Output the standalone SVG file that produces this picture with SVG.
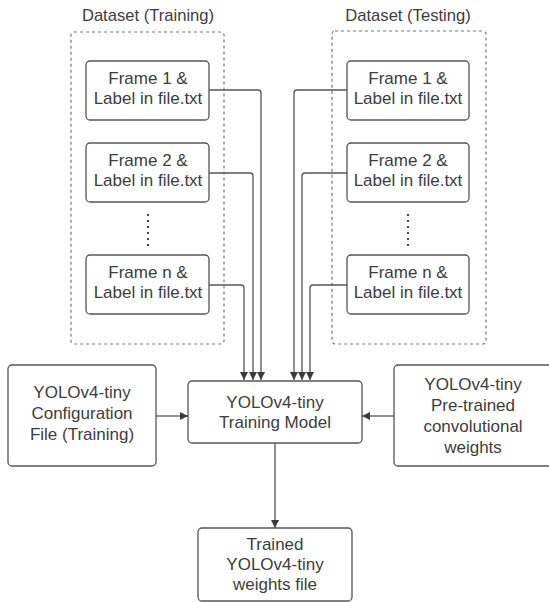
<svg xmlns="http://www.w3.org/2000/svg" width="549" height="602" viewBox="0 0 549 602">
<defs>
<marker id="ah" viewBox="0 0 10 10" refX="10" refY="5" markerWidth="8" markerHeight="8" markerUnits="userSpaceOnUse" orient="auto">
<path d="M0,0 L10,5 L0,10 z" fill="#3a3a3a"/>
</marker>
<style>
.box{fill:#fff;stroke:#555;stroke-width:1.3}
.grp{fill:none;stroke:#777;stroke-width:1.2;stroke-dasharray:3 3}
.t{font-family:"Liberation Sans",Arial,sans-serif;font-size:17px;fill:#3d3d3d;text-anchor:middle}
.h{font-size:16.6px}
.c{fill:none;stroke:#555;stroke-width:1.3}
.dots{fill:none;stroke:#444;stroke-width:2;stroke-dasharray:2 4}
</style>
</defs>
<rect width="549" height="602" fill="#fff"/>

<g id="dataset-training">
<rect class="grp" x="71" y="32" width="153" height="312" rx="3"/>
<text class="t h" x="148" y="21">Dataset (Training)</text>
</g>
<g id="dataset-testing">
<rect class="grp" x="332" y="31" width="154" height="313" rx="3"/>
<text class="t h" x="408" y="21">Dataset (Testing)</text>
</g>

<g id="train-frame1">
<rect class="box" x="86" y="61" width="123" height="59" rx="4"/>
<text class="t" x="148" y="84">Frame 1 &amp;</text>
<text class="t" x="148" y="104">Label in file.txt</text>
</g>
<g id="train-frame2">
<rect class="box" x="86" y="143" width="123" height="59" rx="4"/>
<text class="t" x="148" y="166">Frame 2 &amp;</text>
<text class="t" x="148" y="186">Label in file.txt</text>
</g>
<path class="dots" d="M148,214 V246"/>
<g id="train-framen">
<rect class="box" x="86" y="255" width="123" height="59" rx="4"/>
<text class="t" x="148" y="278">Frame n &amp;</text>
<text class="t" x="148" y="298">Label in file.txt</text>
</g>

<g id="test-frame1">
<rect class="box" x="347" y="61" width="122" height="59" rx="4"/>
<text class="t" x="408" y="84">Frame 1 &amp;</text>
<text class="t" x="408" y="104">Label in file.txt</text>
</g>
<g id="test-frame2">
<rect class="box" x="347" y="143" width="122" height="59" rx="4"/>
<text class="t" x="408" y="166">Frame 2 &amp;</text>
<text class="t" x="408" y="186">Label in file.txt</text>
</g>
<path class="dots" d="M408,214 V246"/>
<g id="test-framen">
<rect class="box" x="347" y="255" width="122" height="59" rx="4"/>
<text class="t" x="408" y="278">Frame n &amp;</text>
<text class="t" x="408" y="298">Label in file.txt</text>
</g>

<g id="config">
<rect class="box" x="8" y="365" width="148" height="101" rx="4"/>
<text class="t" x="82" y="398">YOLOv4-tiny</text>
<text class="t" x="82" y="419">Configuration</text>
<text class="t" x="82" y="440">File (Training)</text>
</g>
<g id="model">
<rect class="box" x="188" y="381" width="174" height="62" rx="4"/>
<text class="t" x="275" y="408">YOLOv4-tiny</text>
<text class="t" x="275" y="428">Training Model</text>
</g>
<g id="pretrained">
<rect class="box" x="394" y="365" width="160" height="101" rx="4"/>
<text class="t" x="473" y="390">YOLOv4-tiny</text>
<text class="t" x="473" y="411">Pre-trained</text>
<text class="t" x="473" y="432">convolutional</text>
<text class="t" x="473" y="453">weights</text>
</g>
<g id="trained">
<rect class="box" x="198" y="528" width="154" height="73" rx="4"/>
<text class="t" x="275" y="550">Trained</text>
<text class="t" x="275" y="570">YOLOv4-tiny</text>
<text class="t" x="275" y="590">weights file</text>
</g>

<g id="connectors">
<path class="c" marker-end="url(#ah)" d="M209,90 H258 Q261,90 261,93 V380"/>
<path class="c" marker-end="url(#ah)" d="M209,173 H250 Q253,173 253,176 V380"/>
<path class="c" marker-end="url(#ah)" d="M209,285 H241 Q244,285 244,288 V380"/>
<path class="c" marker-end="url(#ah)" d="M347,90 H297 Q294,90 294,93 V380"/>
<path class="c" marker-end="url(#ah)" d="M347,173 H305 Q302,173 302,176 V380"/>
<path class="c" marker-end="url(#ah)" d="M347,285 H313 Q310,285 310,288 V380"/>
<path class="c" marker-end="url(#ah)" d="M156,416 H188"/>
<path class="c" marker-end="url(#ah)" d="M394,416 H362"/>
<path class="c" marker-end="url(#ah)" d="M275,443 V528"/>
</g>
</svg>
